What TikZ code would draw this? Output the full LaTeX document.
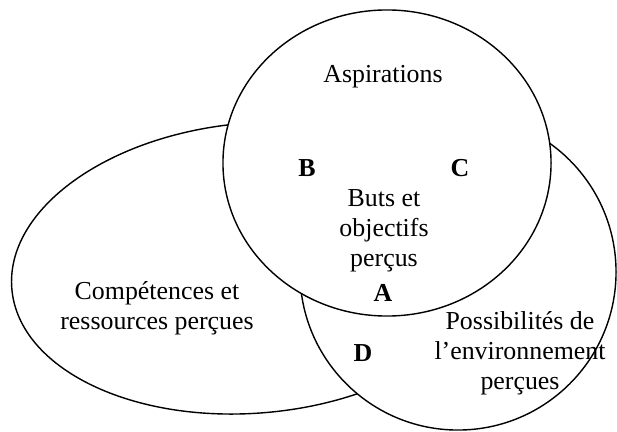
\documentclass[tikz,border=0pt]{standalone}
\usepackage{fontspec}
\setmainfont{Liberation Serif}
\usetikzlibrary{shapes.geometric}
\begin{document}
\begin{tikzpicture}[x=0.025cm, y=-0.025cm]
\tikzstyle{every node}=[font=\fontsize{18.4}{21.3}\selectfont, align=center, inner sep=0pt]
\tikzstyle{zone}=[draw, fill=white, line width=1pt, ellipse]
\tikzstyle{lettre}=[font=\fontsize{18.4}{21.3}\selectfont\bfseries]
\useasboundingbox (0,0) rectangle (617,432);
% les trois ensembles (celui du haut par-dessus)
\draw (254,268) node (comp) [zone, minimum width=12.15cm, minimum height=7.25cm, rotate=5] {};
\draw (458,272) node (env) [zone, minimum width=7.9cm, minimum height=7.9cm] {};
\draw (387,163) node (asp) [zone, minimum width=8.2cm, minimum height=7.65cm] {};
% textes
\draw (383,77) node (aspt) {Aspirations};
\draw (384,231) node (buts) {Buts et\\objectifs\\perçus};
\draw (157,308) node (compt) {Compétences et\\ressources perçues};
\draw (520,353) node (envt) {Possibilités de\\l'environnement\\perçues};
% zones
\draw (307,168) node (b) [lettre] {B};
\draw (460,168) node (c) [lettre] {C};
\draw (383,293) node (a) [lettre] {A};
\draw (363,353) node (d) [lettre] {D};
\end{tikzpicture}
\end{document}
